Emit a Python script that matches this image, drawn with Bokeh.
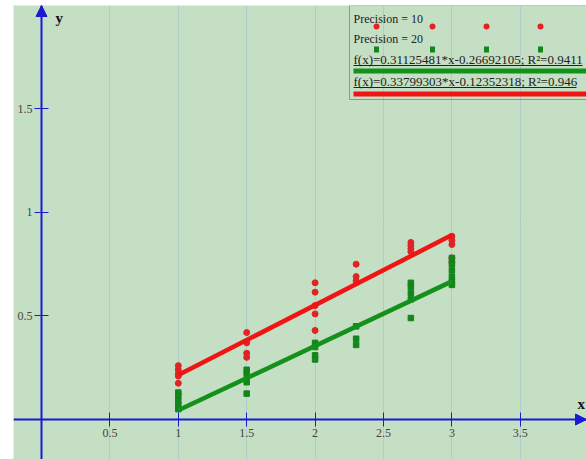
from bokeh.plotting import figure
from bokeh.models import (Range1d, FixedTicker, NumeralTickFormatter, Label,
                          BoxAnnotation, Arrow, NormalHead)
from bokeh.embed import file_html
from bokeh.resources import INLINE

# ---------------- data ----------------
x_ticks = [0.5, 1, 1.5, 2, 2.5, 3, 3.5]
y_ticks = [0.5, 1, 1.5]

p10_x = [1, 1, 1, 1, 1,
         1.5, 1.5, 1.5, 1.5,
         2, 2, 2, 2, 2,
         2.3, 2.3, 2.3,
         2.7, 2.7, 2.7, 2.7,
         3, 3, 3, 3, 3]
p10_y = [0.26, 0.24, 0.22, 0.21, 0.175,
         0.42, 0.37, 0.32, 0.30,
         0.66, 0.615, 0.55, 0.51, 0.43,
         0.75, 0.69, 0.67,
         0.855, 0.84, 0.825, 0.81,
         0.885, 0.865, 0.845, 0.78, 0.76]

p20_x = [1, 1, 1, 1, 1,
         1.5, 1.5, 1.5, 1.5,
         2, 2, 2, 2,
         2.3, 2.3, 2.3,
         2.7, 2.7, 2.7, 2.7, 2.7,
         3, 3, 3, 3, 3, 3]
p20_y = [0.13, 0.115, 0.09, 0.07, 0.05,
         0.24, 0.22, 0.18, 0.125,
         0.37, 0.35, 0.31, 0.29,
         0.45, 0.39, 0.36,
         0.66, 0.64, 0.61, 0.58, 0.49,
         0.78, 0.75, 0.72, 0.69, 0.665, 0.65]

fit20_slope, fit20_icpt = 0.31125481, -0.26692105
fit10_slope, fit10_icpt = 0.33799303, -0.12352318

legend_labels = ["Precision = 10", "Precision = 20",
                 "f(x)=0.31125481*x-0.26692105; R\u00b2=0.9411",
                 "f(x)=0.33799303*x-0.12352318; R\u00b2=0.946"]

# ---------------- styles ----------------
BG = "#c5dfc5"
AXIS = "#1a1ad2"
RED_PT = "#e02424"
RED_LN = "#f01414"
GRN_PT = "#13851a"
GRN_LN = "#14911a"
SERIF = "Liberation Serif"

W, H = 586, 459
LEFT, TOP = 13, 5          # frame left / top in picture pixels
BOTTOM = H                 # frame bottom
X0, XS = 41.0, 136.8       # pixel of x=0, pixels per unit
Y0, YS = 419.0, 207.1      # pixel of y=0, pixels per unit

x_range = Range1d((LEFT - X0) / XS, (W - X0) / XS)
y_range = Range1d((Y0 - BOTTOM) / YS, (Y0 - TOP) / YS)

p = figure(width=W, height=H, x_range=x_range, y_range=y_range,
           output_backend="svg", toolbar_location=None,
           min_border=0, min_border_left=LEFT, min_border_top=TOP,
           background_fill_color=BG, border_fill_color="white",
           outline_line_color=None)

for ax, ticks in ((p.xaxis, x_ticks), (p.yaxis, y_ticks)):
    ax.fixed_location = 0
    ax.ticker = FixedTicker(ticks=ticks, minor_ticks=[])
    ax.formatter = NumeralTickFormatter(format="0.[0]")
    ax.axis_line_color = AXIS
    ax.axis_line_width = 2
    ax.major_tick_line_color = AXIS
    ax.major_tick_line_width = 1
    ax.major_tick_in = 7
    ax.major_tick_out = 7
    ax.minor_tick_line_color = None
    ax.major_label_text_font = SERIF
    ax.major_label_text_font_size = "12px"
    ax.major_label_text_color = "#444444"
    ax.major_label_standoff = 2

p.xgrid.ticker = FixedTicker(ticks=x_ticks)
p.xgrid.grid_line_color = "#9db6cc"
p.xgrid.grid_line_dash = "1 1"
p.xgrid.grid_line_width = 1
p.ygrid.visible = False

# data points
p.scatter(p10_x, p10_y, marker="circle", size=6, fill_color=RED_PT,
          line_color=RED_PT)
p.scatter(p20_x, p20_y, marker="square", size=5.5, fill_color=GRN_PT,
          line_color=GRN_PT)

# regression lines over the data span
def fit_line(xs, slope, icpt):
    xa, xb = min(xs), max(xs)
    return [xa, xb], [slope * xa + icpt, slope * xb + icpt]

fx10, fy10 = fit_line(p10_x, fit10_slope, fit10_icpt)
fx20, fy20 = fit_line(p20_x, fit20_slope, fit20_icpt)
p.line(fx10, fy10, line_color=RED_LN, line_width=4.5)
p.line(fx20, fy20, line_color=GRN_LN, line_width=4.5)

# arrow heads on the axes
p.add_layout(Arrow(end=NormalHead(size=11, fill_color=AXIS, line_color=AXIS),
                   x_start=x_range.end - 0.02, y_start=0, x_end=x_range.end, y_end=0,
                   line_color=AXIS, line_width=2))
p.add_layout(Arrow(end=NormalHead(size=11, fill_color=AXIS, line_color=AXIS),
                   x_start=0, y_start=y_range.end - 0.02, x_end=0, y_end=y_range.end,
                   line_color=AXIS, line_width=2))

# screen helpers (frame relative, y measured from the bottom)
def sx(px):
    return px - LEFT

def sy(py):
    return BOTTOM - py

p.add_layout(Label(x=sx(55), y=sy(17), x_units="screen", y_units="screen",
                   text="y", text_font=SERIF, text_font_size="15px",
                   text_font_style="bold", text_color="#111111",
                   text_baseline="middle"))
p.add_layout(Label(x=sx(577), y=sy(403), x_units="screen", y_units="screen",
                   text="x", text_font=SERIF, text_font_size="15px",
                   text_font_style="bold", text_color="#111111",
                   text_baseline="middle"))

# ---------- legend box ----------
def sbox(l, r, t, b, **kw):
    return BoxAnnotation(left=sx(l), right=sx(r), top=sy(t), bottom=sy(b),
                         left_units="screen", right_units="screen",
                         top_units="screen", bottom_units="screen", **kw)

p.add_layout(sbox(349, 600, 5, 99, fill_alpha=0, line_color="black", line_width=1))

text_rows = [(18, "12px"), (38, "12px"), (59, "13px"), (81, "13px")]
for lab, (mid, size) in zip(legend_labels, text_rows):
    p.add_layout(Label(x=sx(353), y=sy(mid), x_units="screen", y_units="screen",
                       text=lab, text_font=SERIF, text_font_size=size,
                       text_color="#222222", text_baseline="middle"))

underline_rows = [(65, 582), (87, 576)]
for row, end in underline_rows:
    p.add_layout(sbox(353, end, row - 0.5, row + 0.5,
                      fill_color="#222222", fill_alpha=1, line_alpha=0))

marker_xs = [376, 432, 486, 540]
for mx in marker_xs:
    p.add_layout(sbox(mx - 3, mx + 3, 23, 29, fill_color=RED_PT, fill_alpha=1,
                      line_alpha=0, border_radius=3))
    p.add_layout(sbox(mx - 2.5, mx + 2.5, 46, 52, fill_color=GRN_PT, fill_alpha=1,
                      line_alpha=0))

for top, col in ((68, GRN_LN), (91, RED_LN)):
    p.add_layout(sbox(353, 600, top, top + 5, fill_color=col, fill_alpha=1, line_alpha=0))

open("out.html", "w").write(file_html(p, INLINE))
